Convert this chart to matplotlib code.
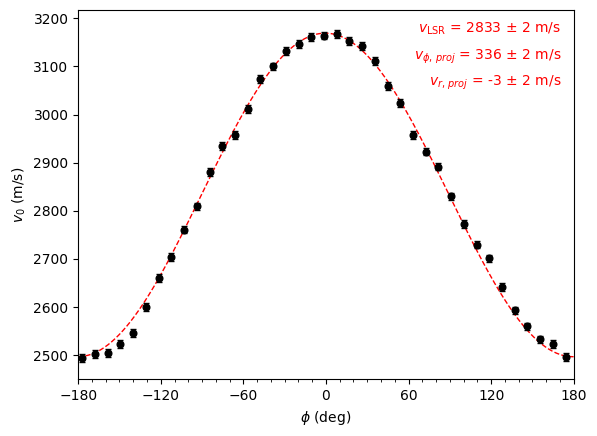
import numpy as np
import matplotlib
matplotlib.use("Agg")
import matplotlib.pyplot as plt
from matplotlib.ticker import MultipleLocator

phi = [-177.0, -167.8, -158.5, -149.3, -140.0, -130.8, -121.6, -112.3, -103.1, -93.8,
       -84.6, -75.4, -66.1, -56.9, -47.6, -38.4, -29.2, -19.9, -10.7, -1.4,
       7.8, 17.1, 26.3, 35.5, 44.8, 54.0, 63.3, 72.5, 81.7, 91.0,
       100.2, 109.5, 118.7, 127.9, 137.2, 146.4, 155.7, 164.9, 174.1]
v0 = [2495, 2502, 2504, 2523, 2546, 2600, 2661, 2704, 2761, 2809,
      2881, 2934, 2958, 3012, 3074, 3100, 3132, 3147, 3161, 3164,
      3167, 3153, 3142, 3111, 3060, 3024, 2957, 2923, 2892, 2830,
      2772, 2730, 2701, 2642, 2593, 2560, 2533, 2523, 2497]
v0_err = [8] * len(phi)

v_lsr = 2833
v_phi = 336
v_r = -3

fig = plt.figure(figsize=(5.97, 4.36), dpi=100)
ax = fig.add_axes([0.131, 0.13, 0.830, 0.848])

phi_fit = np.linspace(-180, 180, 400)
rad = np.deg2rad(phi_fit)
ax.plot(phi_fit, v_lsr + v_phi * np.cos(rad) + v_r * np.sin(rad), 'r--', lw=1)
ax.errorbar(phi, v0, yerr=v0_err, fmt='o', color='black', ms=4.8, capsize=2.5,
            elinewidth=1, capthick=1)

ax.set_xlim(-180, 180)
ax.set_ylim(2450, 3218)
ax.xaxis.set_major_locator(MultipleLocator(60))
ax.xaxis.set_minor_locator(MultipleLocator(10))
ax.set_xlabel(r'$\phi$ (deg)')
ax.set_ylabel(r'$v_0$ (m/s)')

ax.text(0.975, 0.971, r'$v_{\rm LSR}$ = 2833 $\pm$ 2 m/s', color='red', ha='right', va='top',
        transform=ax.transAxes, fontsize=10)
ax.text(0.975, 0.898, r'$v_{\phi,\,proj}$ = 336 $\pm$ 2 m/s', color='red', ha='right', va='top',
        transform=ax.transAxes, fontsize=10)
ax.text(0.975, 0.826, r'$v_{r,\,proj}$ = -3 $\pm$ 2 m/s', color='red', ha='right', va='top',
        transform=ax.transAxes, fontsize=10)

fig.savefig('out.png', dpi=100)
